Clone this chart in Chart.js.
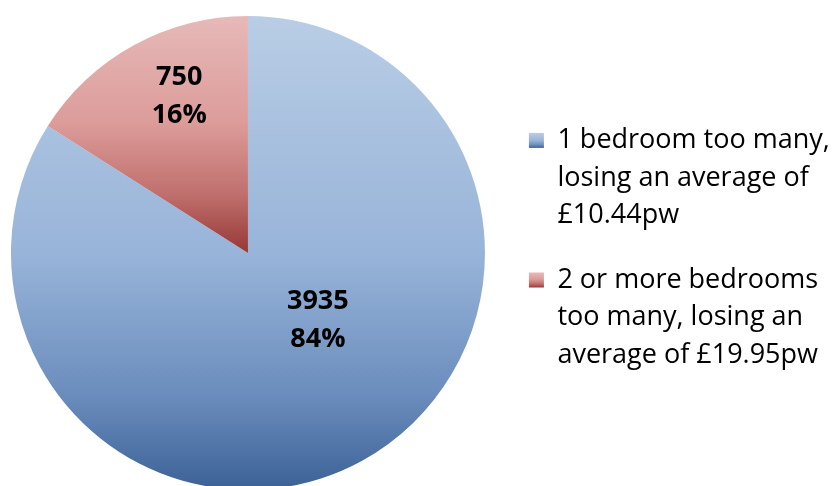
<!DOCTYPE html>
<html>
<head>
<meta charset="utf-8">
<script src="https://cdn.jsdelivr.net/npm/chart.js@4.4.1/dist/chart.umd.min.js"></script>
<style>
  html, body { margin: 0; padding: 0; background: #fff; overflow: hidden; }
  #wrap { width: 846px; height: 490px; margin-left: -6px; }
</style>
</head>
<body>
<div id="wrap"><canvas id="chart" width="846" height="490"></canvas></div>
<script>
// Data
const categories = [
  ['1 bedroom too many,', 'losing an average of', '£10.44pw'],
  ['2 or more bedrooms', 'too many, losing an', 'average of £19.95pw']
];
const households = [3935, 750];
const percentLabels = ['84%', '16%'];

// Gradient stops (top -> bottom) per slice
const gradientStops = [
  [[0, '#b9cde5'], [0.5, '#98b4d9'], [0.8, '#6b8dbd'], [1, '#3b6196']],
  [[0, '#e6b9b8'], [0.45, '#dc9c9a'], [0.75, '#c0706e'], [1, '#963836']]
];

// Where the value labels sit, as fraction of radius from the centre
const labelOffsets = [[0.295, 0.283], [-0.29, -0.66]];

const FONT = '"Open Sans", "DejaVu Sans", sans-serif';

function pieGeometry(chart) {
  const a = chart.chartArea;
  return {
    cx: (a.left + a.right) / 2,
    cy: (a.top + a.bottom) / 2,
    r: Math.min(a.right - a.left, a.bottom - a.top) / 2
  };
}

function makeGradient(ctx, y0, y1, stops) {
  const g = ctx.createLinearGradient(0, y0, 0, y1);
  stops.forEach(s => g.addColorStop(s[0], s[1]));
  return g;
}

// Slice fill: blue spans the whole pie, red spans its own box (top to centre)
function sliceFill(context) {
  const chart = context.chart;
  if (!chart.chartArea) return gradientStops[context.dataIndex][0][1];
  const { cy, r } = pieGeometry(chart);
  const y1 = context.dataIndex === 0 ? cy + r : cy;
  return makeGradient(chart.ctx, cy - r, y1, gradientStops[context.dataIndex]);
}

// Legend boxes get their own small gradients
const legendGradients = {
  id: 'legendGradients',
  beforeDraw(chart) {
    const legend = chart.legend;
    if (!legend || !legend.legendHitBoxes) return;
    legend.legendItems.forEach((item, i) => {
      const hb = legend.legendHitBoxes[i];
      if (!hb) return;
      const top = hb.top + 6;
      item.fillStyle = makeGradient(chart.ctx, top, top + 15, gradientStops[i]);
    });
  }
};

// Value + percent labels inside slices
const sliceLabels = {
  id: 'sliceLabels',
  afterDatasetsDraw(chart) {
    const ctx = chart.ctx;
    const { cx, cy, r } = pieGeometry(chart);
    ctx.save();
    ctx.fillStyle = '#000';
    ctx.font = 'bold 27px ' + FONT;
    ctx.textAlign = 'center';
    ctx.textBaseline = 'middle';
    households.forEach((v, i) => {
      const x = cx + labelOffsets[i][0] * r;
      const y = cy + labelOffsets[i][1] * r;
      ctx.fillText(String(v), x, y - 19);
      ctx.fillText(percentLabels[i], x, y + 19);
    });
    ctx.restore();
  }
};

const chart = new Chart(document.getElementById('chart'), {
  type: 'pie',
  data: {
    labels: categories,
    datasets: [{
      data: households,
      backgroundColor: sliceFill,
      borderWidth: 0
    }]
  },
  options: {
    responsive: false,
    animation: false,
    layout: { padding: { top: 16, left: 0, right: 12, bottom: 0 } },
    plugins: {
      tooltip: { enabled: false },
      legend: {
        position: 'right',
        labels: {
          boxWidth: 15,
          boxHeight: 15,
          padding: 27,
          color: '#000',
          font: { family: FONT, size: 27, lineHeight: 1.39 }
        }
      }
    }
  },
  plugins: [legendGradients, sliceLabels]
});
</script>
</body>
</html>
